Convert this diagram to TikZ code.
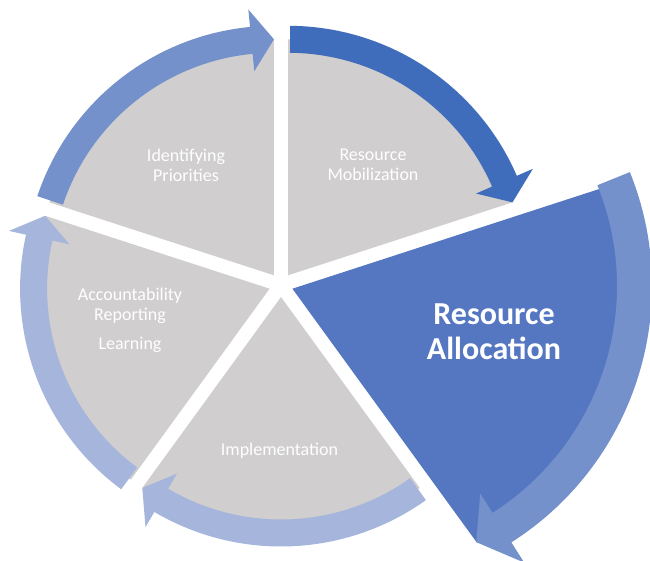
\documentclass[tikz,border=0pt]{standalone}
\usepackage{fontspec}
\setmainfont{Carlito}

\definecolor{segGray}{RGB}{208,206,206}
\definecolor{segBlue}{RGB}{85,119,193}
\definecolor{arrMid}{RGB}{116,145,203}
\definecolor{arrDark}{RGB}{63,109,187}
\definecolor{arrLight}{RGB}{166,181,219}

\tikzset{
  seg/.style={fill=segGray},
  lbl/.style={text=white,align=center,font=\fontsize{18}{20}\selectfont},
  biglbl/.style={text=white,align=center,font=\fontsize{32}{35}\selectfont\bfseries}
}

\begin{document}
\begin{tikzpicture}[x=1pt,y=1pt]
  \useasboundingbox (-281,-276) rectangle (369,285);
  \clip (-281,-276) rectangle (369,285);

  % four grey segments, each pushed out along its bisector, with its arrow
  \foreach \a/\col in {90/arrMid, 18/arrDark, 162/arrLight, 234/arrLight}{
    \begin{scope}[shift={(\a+36:12)}]
      \fill[seg] (0,0) -- (\a:236) arc[start angle=\a, end angle=\a+72, radius=236] -- cycle;
      \fill[\col] (\a+71.5:222.5) -- (\a+71.5:249.5)
        arc[start angle=\a+71.5, end angle=\a+5.5, radius=249.5]
        -- (\a+5.5:267) -- (\a:236) -- (\a+5.5:205) -- (\a+5.5:222.5)
        arc[start angle=\a+5.5, end angle=\a+71.5, radius=222.5] -- cycle;
    \end{scope}
  }

  % the large blue segment
  \begin{scope}[shift={(-18:12)}]
    \clip (55.6,2.7) circle (287);
    \fill[segBlue] (0,0) -- (18:420) arc[start angle=18, end angle=-54, radius=420] -- cycle;
  \end{scope}
  \begin{scope}[shift={(67,-1)}]
    \fill[arrMid] (22:269) -- (22:304)
      arc[start angle=22, end angle=-57.5, radius=304]
      -- (-57.5:328) -- (-63.4:286.5) -- (-57.5:246) -- (-57.5:269)
      arc[start angle=-57.5, end angle=22, radius=269] -- cycle;
  \end{scope}

  \node[lbl] (ident) at (-95,120) {Identifying\\Priorities};
  \node[lbl] (mobil) at (92,120) {Resource\\Mobilization};
  \node[lbl] (account) at (-151,-21) {Accountability\\Reporting};
  \node[lbl] (learn) at (-151,-60) {Learning};
  \node[lbl] (impl) at (-1.5,-166) {Implementation};
  \node[biglbl] (alloc) at (213,-47) {Resource\\Allocation};
\end{tikzpicture}
\end{document}
